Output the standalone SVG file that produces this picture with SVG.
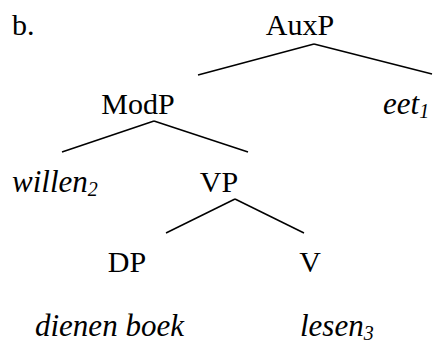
<svg xmlns="http://www.w3.org/2000/svg" width="443" height="344" viewBox="0 0 443 344">
<style>
text{font-family:"Liberation Serif","Times New Roman",serif;font-size:30px;fill:#000}
.i{font-style:italic;font-size:31px}
.s{font-size:20px}
line{stroke:#000;stroke-width:1.5}
</style>
<rect width="443" height="344" fill="#fff"/>
<g id="connectors">
<line x1="198" y1="75" x2="314" y2="44"/>
<line x1="314" y1="44" x2="432" y2="74"/>
<line x1="62" y1="152" x2="154" y2="121"/>
<line x1="154" y1="121" x2="248" y2="152"/>
<line x1="166" y1="233" x2="235" y2="199"/>
<line x1="235" y1="199" x2="304" y2="233"/>
</g>
<g id="label-b"><text x="12" y="35">b.</text></g>
<g id="AuxP"><text x="300" y="35" text-anchor="middle">AuxP</text></g>
<g id="ModP"><text x="138" y="114" text-anchor="middle">ModP</text></g>
<g id="eet"><text x="383" y="114" class="i">eet<tspan class="s" dy="4">1</tspan></text></g>
<g id="willen"><text x="12" y="192" class="i">willen<tspan class="s" dy="4">2</tspan></text></g>
<g id="VP"><text x="219" y="192" text-anchor="middle">VP</text></g>
<g id="DP"><text x="127" y="272" text-anchor="middle">DP</text></g>
<g id="V"><text x="310" y="272" text-anchor="middle">V</text></g>
<g id="dienen"><text x="35" y="336" class="i">dienen boek</text></g>
<g id="lesen"><text x="300" y="336" class="i">lesen<tspan class="s" dy="4">3</tspan></text></g>
</svg>
